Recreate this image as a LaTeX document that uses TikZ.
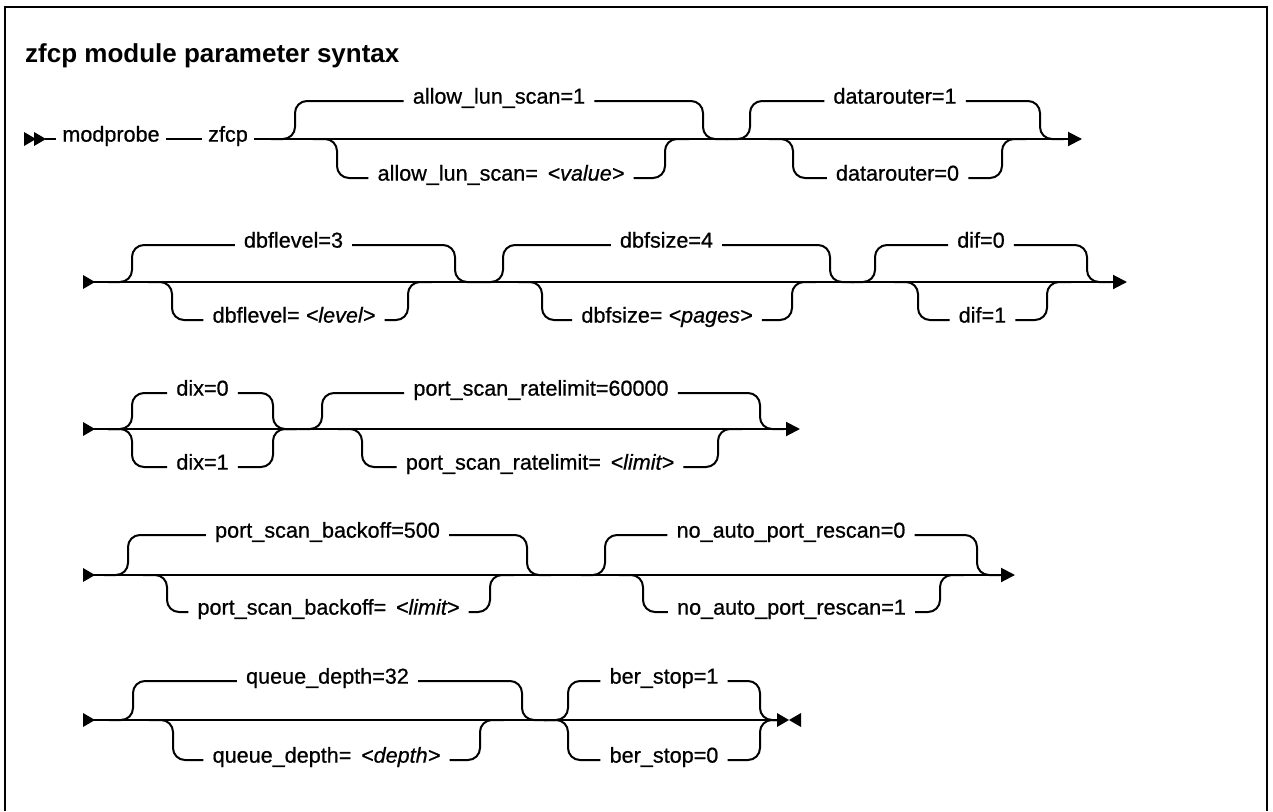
\documentclass[tikz,border=0pt]{standalone}
\usepackage{fontspec}
\setmainfont{Liberation Sans}
\newfontfamily\railfont{Liberation Sans}[FakeBold=0.7]
\usetikzlibrary{arrows.meta}
\tikzset{
  rail/.style={line width=2pt, rounded corners=12pt},
  lbl/.style={font=\railfont\fontsize{21.6}{25}\selectfont, inner xsep=9pt, inner ysep=1pt, anchor=mid},
  kw/.style={font=\railfont\fontsize{21.6}{25}\selectfont, inner xsep=6pt, inner ysep=1pt, anchor=mid},
  endtip/.style={-{Triangle[length=14pt,width=14pt]}},
  tri/.pic={\fill (0,-7) -- (12,0) -- (0,7) -- cycle;},
  ltri/.pic={\fill (0,-7) -- (-12,0) -- (0,7) -- cycle;}
}
% #1 left x, #2 right x, #3 main y, #4 branch y, #5 label node
\newcommand\railbr[5]{%
  \draw[rail] (#1-24,#3) -- (#1,#3) -- (#1,#4) -- (#5.mid west);
  \draw[rail] (#5.mid east) -- (#2,#4) -- (#2,#3) -- (#2+24,#3);
}
\begin{document}
\begin{tikzpicture}[x=1pt,y=-1pt]
\useasboundingbox (0,0) rectangle (1273,811);
\draw[line width=2.5pt] (5,811) -- (5,7) -- (1267,7) -- (1267,811);

\node[anchor=base west, inner sep=0pt, font=\fontsize{26}{30}\selectfont\bfseries] (title) at (25,62) {zfcp module parameter syntax};

% ---------- row 1 ----------
\pic at (24,139) {tri};
\pic at (34,139) {tri};
\coordinate (s1) at (45,139);
\node[kw] (mod) at (111,139) {modprobe};
\node[kw] (zfcp) at (228,139) {zfcp};
\coordinate (e1) at (1082,139);
\draw[rail] (s1) -- (mod.mid west);
\draw[rail] (mod.mid east) -- (zfcp.mid west);
\draw[rail,endtip] (zfcp.mid east) -- (e1);

\node[lbl] (a1) at (499,101) {allow\_lun\_scan=1};
\node[lbl] (a2) at (501,178) {allow\_lun\_scan=\ \,\textit{<value>}};
\node[lbl] (b1) at (895,101) {datarouter=1};
\node[lbl] (b2) at (897.5,178) {datarouter=0};
\railbr{295}{703}{139}{101}{a1}
\railbr{337}{665}{139}{178}{a2}
\railbr{750}{1040}{139}{101}{b1}
\railbr{793}{1002}{139}{178}{b2}

% ---------- row 2 ----------
\pic at (83,282) {tri};
\coordinate (s2) at (90,282);
\coordinate (e2) at (1127,282);
\draw[rail,endtip] (s2) -- (e2);
\node[lbl] (c1) at (293.5,245) {dbflevel=3};
\node[lbl] (c2) at (294,320) {dbflevel= \textit{<level>}};
\node[lbl] (d1) at (666.5,245) {dbfsize=4};
\node[lbl] (d2) at (667,320) {dbfsize= \textit{<pages>}};
\node[lbl] (f1) at (981,245) {dif=0};
\node[lbl] (f2) at (982.5,320) {dif=1};
\railbr{132}{455}{282}{245}{c1}
\railbr{172}{408}{282}{320}{c2}
\railbr{503}{830}{282}{245}{d1}
\railbr{542}{792}{282}{320}{d2}
\railbr{875}{1087}{282}{245}{f1}
\railbr{918}{1047}{282}{320}{f2}

% ---------- row 3 ----------
\pic at (83,429) {tri};
\coordinate (s3) at (90,429);
\coordinate (e3) at (800,429);
\draw[rail,endtip] (s3) -- (e3);
\node[lbl] (g1) at (202.5,393) {dix=0};
\node[lbl] (g2) at (202.5,467) {dix=1};
\node[lbl] (h1) at (541,393) {port\_scan\_ratelimit=60000};
\node[lbl] (h2) at (540,467) {port\_scan\_ratelimit=\ \,\textit{<limit>}};
\railbr{132}{273}{429}{393}{g1}
\railbr{132}{273}{429}{467}{g2}
\railbr{322}{760}{429}{393}{h1}
\railbr{362}{718}{429}{467}{h2}

% ---------- row 4 ----------
\pic at (83,575) {tri};
\coordinate (s4) at (90,575);
\coordinate (e4) at (1015,575);
\draw[rail,endtip] (s4) -- (e4);
\node[lbl] (i1) at (327.5,535) {port\_scan\_backoff=500};
\node[lbl] (i2) at (328.5,612) {port\_scan\_backoff=\ \,\textit{<limit>}};
\node[lbl] (j1) at (791,535) {no\_auto\_port\_rescan=0};
\node[lbl] (j2) at (791.5,612) {no\_auto\_port\_rescan=1};
\railbr{128}{527}{575}{535}{i1}
\railbr{167}{490}{575}{612}{i2}
\railbr{605}{977}{575}{535}{j1}
\railbr{643}{940}{575}{612}{j2}

% ---------- row 5 ----------
\pic at (83,720) {tri};
\coordinate (s5) at (90,720);
\coordinate (e5) at (779,720);
\draw[rail] (s5) -- (e5);
\pic at (777,720) {tri};
\pic at (801,720) {ltri};
\node[lbl] (k1) at (327.5,681) {queue\_depth=32};
\node[lbl] (k2) at (326.5,760) {queue\_depth=\ \,\textit{<depth>}};
\node[lbl] (m1) at (664,681) {ber\_stop=1};
\node[lbl] (m2) at (664,760) {ber\_stop=0};
\railbr{133}{522}{720}{681}{k1}
\railbr{173}{480}{720}{760}{k2}
\railbr{568}{760}{720}{681}{m1}
\railbr{568}{760}{720}{760}{m2}
\end{tikzpicture}
\end{document}
